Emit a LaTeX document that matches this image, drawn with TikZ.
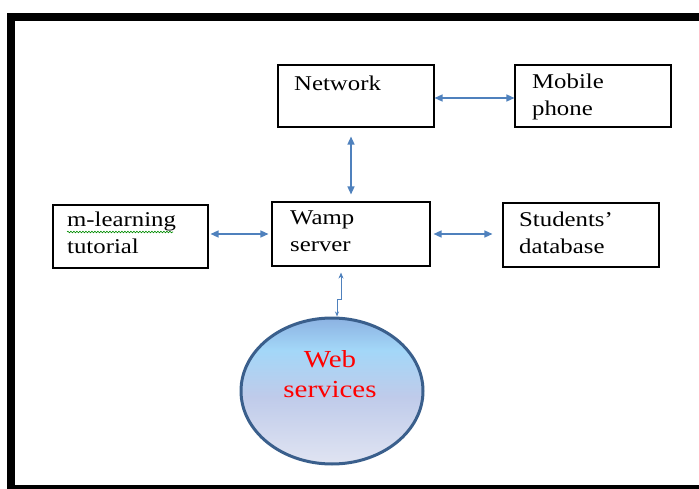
\documentclass[tikz,border=0pt]{standalone}
\usepackage{fontspec}
\setmainfont{Liberation Serif}[FakeStretch=1.18]
\usetikzlibrary{arrows.meta,shapes.geometric,decorations.pathmorphing}
\definecolor{arrblue}{HTML}{4F81BD}
\definecolor{wsTop}{HTML}{8CB2E2}
\definecolor{wsHi}{HTML}{A3D7F8}
\definecolor{wsMid}{HTML}{BFCBEA}
\definecolor{wsBot}{HTML}{E0E4F2}
\definecolor{wsBorder}{HTML}{3A5F8C}
\pgfdeclareverticalshading{webshade}{100bp}{color(0bp)=(wsBot); color(25bp)=(wsBot); color(48bp)=(wsMid); color(64bp)=(wsHi); color(75bp)=(wsTop); color(100bp)=(wsTop)}
\tikzset{
  box/.style={draw=black, line width=1.1pt, rectangle, inner sep=0pt},
  txt/.style={anchor=base west, inner sep=0pt, font=\fontsize{21}{27}\selectfont},
  arr/.style={draw=arrblue, line width=1.4pt, {Triangle[length=8pt,width=7pt]}-{Triangle[length=8pt,width=7pt]}},
  thinarr/.style={draw=arrblue, line width=0.9pt, {Stealth[length=6pt,width=5pt]}-{Stealth[length=5pt,width=4pt]}},
}
\begin{document}
\begin{tikzpicture}[x=1pt,y=-1pt]
\useasboundingbox (0,0) rectangle (699,489);
\begin{scope}
\clip (0,0) rectangle (699,489);
\draw[line width=8pt] (11,17) rectangle (715,489);
\end{scope}

% boxes
\node[box, minimum width=156pt, minimum height=62pt] (net) at (356,96) {};
\node[box, minimum width=156pt, minimum height=62pt] (mob) at (593,96) {};
\node[box, minimum width=155pt, minimum height=63pt] (tut) at (130.5,236.5) {};
\node[box, minimum width=158pt, minimum height=64pt] (wamp) at (351,234) {};
\node[box, minimum width=156pt, minimum height=64pt] (stu) at (581,235) {};

% texts
\node[txt] (netT) at (294,91) {Network};
\node[txt] (mobT1) at (532,89) {Mobile};
\node[txt] (mobT2) at (532,116) {phone};
\node[txt] (tutT1) at (67,227) {m-learning};
\node[txt] (tutT2) at (67,254) {tutorial};
\node[txt] (wampT1) at (290,225) {Wamp};
\node[txt] (wampT2) at (290,252) {server};
\node[txt] (stuT1) at (519,227) {Students’};
\node[txt] (stuT2) at (519,254) {database};

% spell-check wavy underline
\draw[green!55!black, line width=0.6pt, decorate, decoration={snake, segment length=3pt, amplitude=0.8pt}] (67,232) -- (173,232);

% web services ellipse
\node[ellipse, minimum width=182pt, minimum height=146pt, inner sep=0pt, draw=wsBorder, line width=3pt, shade, shading=webshade] (web) at (332,391) {};
\node[anchor=base, inner sep=0pt, text=red, font=\fontsize{24.5}{30}\selectfont] (webT1) at (330,367) {Web};
\node[anchor=base, inner sep=0pt, text=red, font=\fontsize{24.5}{30}\selectfont] (webT2) at (330,397) {services};

% connectors
\draw[arr] ([yshift=-2pt]net.east) -- ([yshift=-2pt]mob.west);
\draw[arr, shorten <=7pt, shorten >=9pt] (wamp.north) -- (wamp.north |- net.south);
\draw[arr, shorten <=3pt, shorten >=2pt] (wamp.west) -- (wamp.west -| tut.east);
\draw[arr, shorten <=3pt, shorten >=10pt] (wamp.east) -- (wamp.east -| stu.west);
\draw[thinarr] ([xshift=-10pt,yshift=-6pt]wamp.south) -- ++(0,27) -| ([xshift=5pt]web.north);
\end{tikzpicture}
\end{document}
